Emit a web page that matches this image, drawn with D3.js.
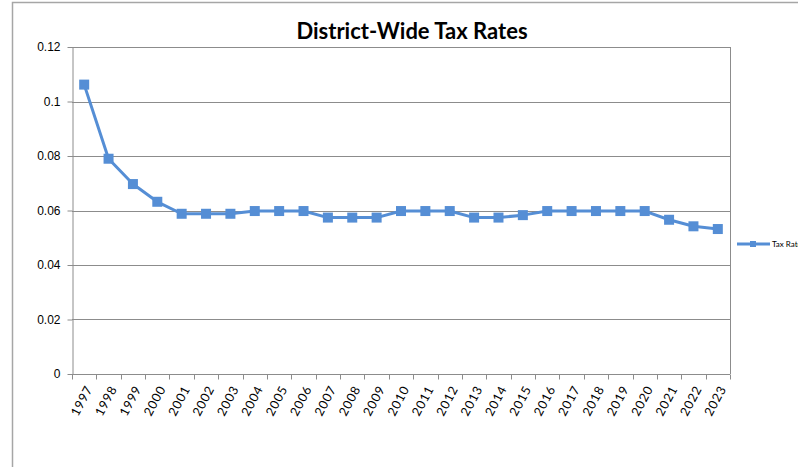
<!DOCTYPE html>
<html>
<head>
<meta charset="utf-8">
<script src="https://cdn.jsdelivr.net/npm/d3@7"></script>
<style>
    body {
        margin: 0;
        background: #fff;
    }
    svg {
        display: block;
        font-family: Lato, "Open Sans", sans-serif;
    }
    .grid line {
        stroke: #8c8c8c;
        stroke-width: 1;
    }
    .axis text {
        font-size: 12px;
        fill: #000;
    }
    .axis path, .axis line {
        stroke: #8c8c8c;
    }
</style>
</head>
<body>

<svg id="chart" width="798" height="467"></svg>

<script>

    var years = ['1997', '1998', '1999', '2000', '2001', '2002', '2003', '2004', '2005',
                 '2006', '2007', '2008', '2009', '2010', '2011', '2012', '2013', '2014',
                 '2015', '2016', '2017', '2018', '2019', '2020', '2021', '2022', '2023'];

    var taxRates = [0.1062, 0.0790, 0.0697, 0.0632, 0.0588, 0.0588, 0.0588, 0.0598, 0.0598,
                    0.0598, 0.0574, 0.0574, 0.0574, 0.0598, 0.0598, 0.0598, 0.0574, 0.0574,
                    0.0583, 0.0598, 0.0598, 0.0598, 0.0598, 0.0598, 0.0566, 0.0542, 0.0532];

    var yTicks = [0, 0.02, 0.04, 0.06, 0.08, 0.1, 0.12];
    var yTickLabels = ['0', '0.02', '0.04', '0.06', '0.08', '0.1', '0.12'];

    var seriesName = 'Tax Rate';
    var chartTitle = 'District-Wide Tax Rates';

    var blue = '#558ed5';

    var svg = d3.select('#chart');

    var plot = {left: 72, right: 730, top: 47, bottom: 374};

    // outer chart frame (runs off the right edge like the original)
    svg.append('path')
        .attr('d', 'M12.5,467 L12.5,2.5 L810,2.5')
        .attr('fill', 'none')
        .attr('stroke', '#a6a6a6')
        .attr('stroke-width', 1.5);

    var x = d3.scaleBand()
            .domain(years)
            .range([plot.left, plot.right]);

    var y = d3.scaleLinear()
            .domain([0, 0.12])
            .range([plot.bottom, plot.top]);

    // horizontal gridlines
    svg.append('g')
        .attr('class', 'grid')
        .selectAll('line')
        .data(yTicks)
      .enter()
        .append('line')
        .attr('x1', plot.left)
        .attr('x2', plot.right)
        .attr('y1', function(d) { return Math.round(y(d)) + 0.5; })
        .attr('y2', function(d) { return Math.round(y(d)) + 0.5; });

    // right border of plot area
    svg.append('line')
        .attr('x1', plot.right + 0.5).attr('x2', plot.right + 0.5)
        .attr('y1', y(0.12)).attr('y2', y(0))
        .attr('stroke', '#8c8c8c');

    // y axis
    var yAxis = d3.axisLeft(y)
            .tickValues(yTicks)
            .tickFormat(function(d, i) { return yTickLabels[i]; })
            .tickSize(5)
            .tickPadding(7)
            .tickSizeOuter(0);

    var yG = svg.append('g')
        .attr('class', 'axis')
        .attr('transform', 'translate(' + (plot.left + 0.5) + ',0)')
        .call(yAxis);

    // x axis: ticks between categories
    var xG = svg.append('g')
        .attr('class', 'axis')
        .attr('transform', 'translate(0,' + (plot.bottom + 0.5) + ')');

    xG.append('line')
        .attr('x1', plot.left).attr('x2', plot.right)
        .attr('stroke', '#8c8c8c');

    var tickPos = years.map(function(d) { return x(d); }).concat([plot.right]);

    xG.selectAll('.xtick')
        .data(tickPos)
      .enter()
        .append('line')
        .attr('class', 'xtick')
        .attr('x1', function(d) { return Math.round(d) + 0.5; })
        .attr('x2', function(d) { return Math.round(d) + 0.5; })
        .attr('y1', 0)
        .attr('y2', 5)
        .attr('stroke', '#8c8c8c');

    xG.selectAll('.xlabel')
        .data(years)
      .enter()
        .append('text')
        .attr('class', 'xlabel')
        .attr('text-anchor', 'end')
        .attr('transform', function(d) {
            return 'translate(' + (x(d) + x.bandwidth() / 2 + 5) + ',12) rotate(-62)';
        })
        .attr('dy', '0.35em')
        .style('font-size', '12.5px')
        .style('letter-spacing', '0.8px')
        .text(function(d) { return d; });

    // series line
    var line = d3.line()
            .x(function(d, i) { return x(years[i]) + x.bandwidth() / 2; })
            .y(function(d) { return y(d); });

    svg.append('path')
        .datum(taxRates)
        .attr('d', line)
        .attr('fill', 'none')
        .attr('stroke', blue)
        .attr('stroke-width', 3)
        .attr('stroke-linejoin', 'round');

    svg.selectAll('.marker')
        .data(taxRates)
      .enter()
        .append('rect')
        .attr('class', 'marker')
        .attr('x', function(d, i) { return x(years[i]) + x.bandwidth() / 2 - 5; })
        .attr('y', function(d) { return y(d) - 5; })
        .attr('width', 10)
        .attr('height', 10)
        .attr('fill', blue);

    // title
    svg.append('text')
        .attr('x', 412)
        .attr('y', 39)
        .attr('text-anchor', 'middle')
        .style('font-size', '22px')
        .style('font-weight', 'bold')
        .text(chartTitle);

    // legend
    var legend = svg.append('g')
        .attr('transform', 'translate(737,244)');

    legend.append('line')
        .attr('x1', 0).attr('x2', 33)
        .attr('stroke', blue)
        .attr('stroke-width', 3);

    legend.append('rect')
        .attr('x', 13).attr('y', -3)
        .attr('width', 6).attr('height', 6)
        .attr('fill', blue);

    legend.append('text')
        .attr('x', 35)
        .attr('dy', '0.35em')
        .style('font-size', '8px')
        .text(seriesName);

</script>

</body>
</html>
